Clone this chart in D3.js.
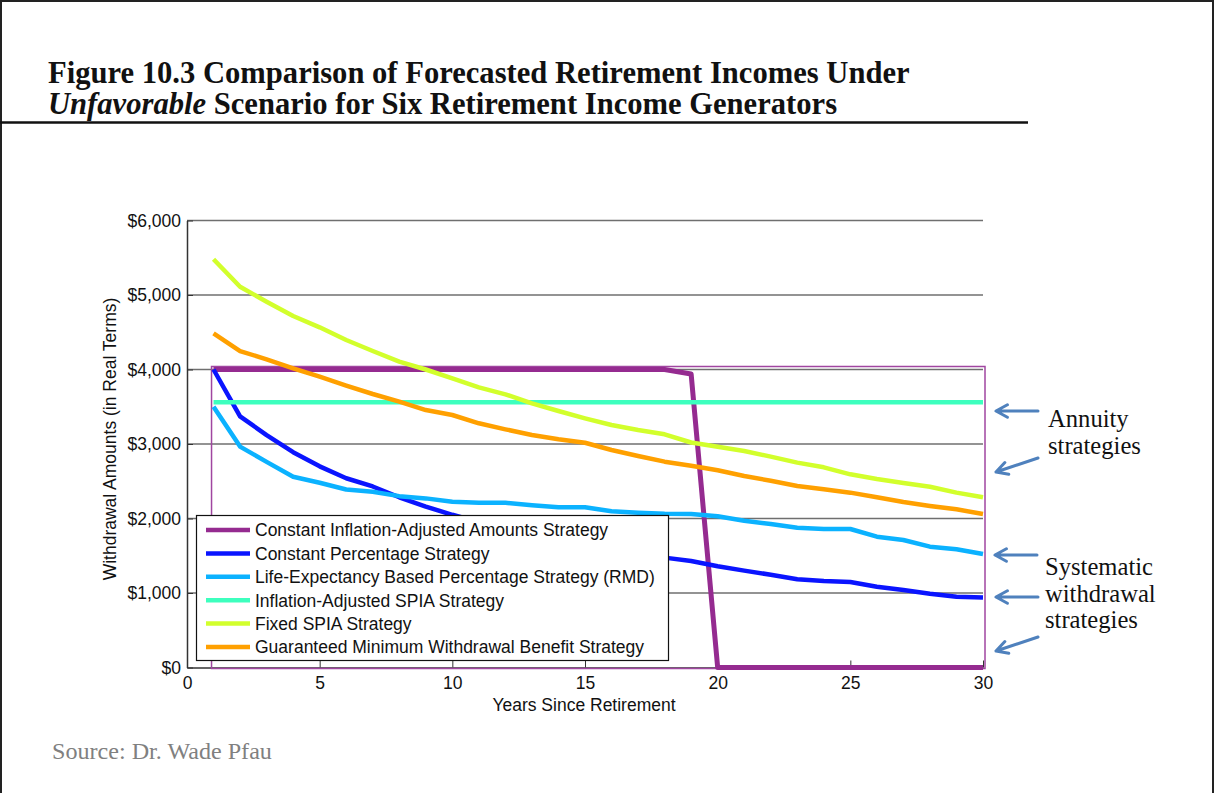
<!DOCTYPE html>
<html>
<head>
<meta charset="utf-8">
<script src="https://cdn.jsdelivr.net/npm/d3@7"></script>
<style>
  html, body { margin: 0; padding: 0; background: #fff; }
  svg { display: block; }
</style>
</head>
<body>
<svg id="chart" width="1215" height="793"></svg>
<script>
// ---------------- DATA ----------------
const years = [1,2,3,4,5,6,7,8,9,10,11,12,13,14,15,16,17,18,19,20,21,22,23,24,25,26,27,28,29,30];

const constInflationAdjusted = [4000,4000,4000,4000,4000,4000,4000,4000,4000,4000,4000,4000,4000,4000,4000,4000,4000,4000,3940,0,0,0,0,0,0,0,0,0,0,0];
const constPercentage = [4000,3370,3120,2890,2700,2540,2430,2285,2160,2050,1950,1860,1780,1710,1640,1580,1520,1475,1430,1360,1300,1245,1185,1160,1148,1085,1040,990,950,940];
const lifeExpectancyRMD = [3500,2965,2760,2560,2480,2390,2360,2300,2270,2225,2210,2210,2177,2150,2150,2097,2078,2064,2060,2030,1970,1926,1877,1859,1859,1756,1711,1622,1587,1523];
const inflationAdjustedSPIA = [3560,3560,3560,3560,3560,3560,3560,3560,3560,3560,3560,3560,3560,3560,3560,3560,3560,3560,3560,3560,3560,3560,3560,3560,3560,3560,3560,3560,3560,3560];
const fixedSPIA = [5480,5110,4910,4718,4566,4396,4248,4105,4000,3880,3760,3667,3546,3443,3345,3255,3188,3130,3020,2964,2906,2830,2750,2687,2593,2530,2477,2427,2347,2285];
const gmwb = [4486,4248,4137,4016,3903,3783,3671,3568,3456,3389,3278,3197,3121,3063,3017,2919,2839,2763,2709,2648,2570,2507,2436,2392,2347,2285,2221,2168,2123,2060];

const seriesNames = [
  "Constant Inflation-Adjusted Amounts Strategy",
  "Constant Percentage Strategy",
  "Life-Expectancy Based Percentage Strategy (RMD)",
  "Inflation-Adjusted SPIA Strategy",
  "Fixed SPIA Strategy",
  "Guaranteed Minimum Withdrawal Benefit Strategy"
];
const seriesValues = [constInflationAdjusted, constPercentage, lifeExpectancyRMD, inflationAdjustedSPIA, fixedSPIA, gmwb];
const seriesColors = ["#952b90", "#0a14ff", "#0bb2ff", "#3dffbe", "#d2ff2c", "#ffa000"];

const xTicks = [0,5,10,15,20,25,30];
const yTicks = [0,1000,2000,3000,4000,5000,6000];

const titleLine1 = "Figure 10.3 Comparison of Forecasted Retirement Incomes Under";
const titleItalic = "Unfavorable";
const titleLine2Rest = " Scenario for Six Retirement Income Generators";
const xTitle = "Years Since Retirement";
const yTitle = "Withdrawal Amounts (in Real Terms)";
const sourceText = "Source: Dr. Wade Pfau";
const annuityLabel = ["Annuity", "strategies"];
const systematicLabel = ["Systematic", "withdrawal", "strategies"];

// ---------------- LAYOUT ----------------
(function () {
const svg = d3.select("#chart");
const pLeft = 187, pRight = 983, pTop = 220.5, pBottom = 667.5;
const x = d3.scaleLinear().domain([0, 30]).range([pLeft, pRight]);
const y = d3.scaleLinear().domain([0, 6000]).range([pBottom, pTop]);
const chartFont = "'Liberation Sans', Arial, sans-serif";
const serifFont = "'Liberation Serif', 'Times New Roman', serif";

function fitWidth(sel, w) {
  const n = sel.node();
  const fs = parseFloat(sel.attr("font-size"));
  const cur = n.getComputedTextLength();
  const nf = fs * w / cur;
  sel.attr("font-size", nf);
  return nf;
}

// outer frame (top, left, right)
svg.append("path")
  .attr("d", "M1,793 L1,1 L1213,1 L1213,793")
  .attr("fill", "none").attr("stroke", "#222").attr("stroke-width", 2);

// title
const t1 = svg.append("text").attr("x", 48).attr("y", 83)
  .attr("font-family", serifFont).attr("font-weight", "bold").attr("font-size", 24)
  .attr("fill", "#111").text(titleLine1);
const tfs = fitWidth(t1, 862);
const t2 = svg.append("text").attr("x", 48).attr("y", 114)
  .attr("font-family", serifFont).attr("font-weight", "bold").attr("font-size", tfs)
  .attr("fill", "#111");
t2.append("tspan").attr("font-style", "italic").text(titleItalic);
t2.append("tspan").text(titleLine2Rest);
svg.append("line").attr("x1", 0).attr("x2", 1028).attr("y1", 122.5).attr("y2", 122.5)
  .attr("stroke", "#111").attr("stroke-width", 2.5);

// gridlines
svg.append("g").selectAll("line").data(yTicks.filter(d => d > 0)).join("line")
  .attr("x1", pLeft).attr("x2", pRight)
  .attr("y1", d => y(d)).attr("y2", d => y(d))
  .attr("stroke", "#6f6f6f").attr("stroke-width", 1.5);

// y axis
const yAxis = svg.append("g").attr("transform", `translate(${pLeft},0)`)
  .call(d3.axisLeft(y).tickValues(yTicks).tickFormat(d3.format("$,.0f")).tickSizeInner(-6).tickSizeOuter(0).tickPadding(6));
yAxis.selectAll("text").attr("font-family", chartFont).attr("font-size", 17.5).attr("fill", "#111");
yAxis.selectAll("line").attr("stroke", "#333");
yAxis.select(".domain").attr("stroke", "#333").attr("stroke-width", 1.5);

// x axis
const xAxis = svg.append("g").attr("transform", `translate(0,${pBottom})`)
  .call(d3.axisBottom(x).tickValues(xTicks).tickFormat(d3.format("d")).tickSizeInner(-7).tickSizeOuter(0).tickPadding(9));
xAxis.selectAll("text").attr("font-family", chartFont).attr("font-size", 17.5).attr("fill", "#111");
xAxis.selectAll("line").attr("stroke", "#333");
xAxis.select(".domain").attr("stroke", "#333").attr("stroke-width", 1.5);

// axis titles
svg.append("text").attr("x", (pLeft + pRight) / 2 - 1).attr("y", 711)
  .attr("text-anchor", "middle").attr("font-family", chartFont).attr("font-size", 17.5)
  .attr("fill", "#111").text(xTitle);
svg.append("text").attr("transform", `translate(116,${(pTop + pBottom) / 2 - 5}) rotate(-90)`)
  .attr("text-anchor", "middle").attr("font-family", chartFont).attr("font-size", 17.5)
  .attr("fill", "#111").text(yTitle);

// thin selection box of the first series
svg.append("rect")
  .attr("x", x(1) - 2).attr("y", y(4000) - 3)
  .attr("width", x(30) - x(1) + 4).attr("height", y(0) - y(4000) + 4)
  .attr("fill", "none").attr("stroke", "#a046a0").attr("stroke-width", 1.5);

// series lines
const line = d3.line().x((d, i) => x(years[i])).y(d => y(d));
svg.append("g").selectAll("path").data(seriesValues).join("path")
  .attr("d", d => line(d))
  .attr("fill", "none")
  .attr("stroke", (d, i) => seriesColors[i])
  .attr("stroke-width", (d, i) => i === 0 ? 5 : 4.5)
  .attr("stroke-linejoin", "round");

// legend
const lg = svg.append("g");
lg.append("rect").attr("x", 196.5).attr("y", 515.5).attr("width", 472).attr("height", 145)
  .attr("fill", "#fff").attr("stroke", "#111").attr("stroke-width", 1.2);
const rowY = i => 530 + i * 23.4;
seriesNames.forEach((name, i) => {
  lg.append("line").attr("x1", 206).attr("x2", 250).attr("y1", rowY(i)).attr("y2", rowY(i))
    .attr("stroke", seriesColors[i]).attr("stroke-width", 4.5);
  lg.append("text").attr("x", 255).attr("y", rowY(i)).attr("dy", "0.36em")
    .attr("font-family", chartFont).attr("font-size", 17.5).attr("fill", "#111").text(name);
});

// annotations
const arrowColor = "#4f81bd";
const arrows = [
  [1038, 411, 996, 411],
  [1038, 458, 996, 472],
  [1037, 555, 995, 555],
  [1038, 597, 996, 597],
  [1038, 637, 996, 651]
];
arrows.forEach(([x1, y1, x2, y2]) => {
  const ang = Math.atan2(y1 - y2, x1 - x2);
  const L = 13, a = 0.5;
  const b1 = [x2 + L * Math.cos(ang + a), y2 + L * Math.sin(ang + a)];
  const b2 = [x2 + L * Math.cos(ang - a), y2 + L * Math.sin(ang - a)];
  svg.append("path")
    .attr("d", `M${x1},${y1} L${x2},${y2} M${b1[0]},${b1[1]} L${x2},${y2} L${b2[0]},${b2[1]}`)
    .attr("fill", "none").attr("stroke", arrowColor).attr("stroke-width", 3)
    .attr("stroke-linecap", "round").attr("stroke-linejoin", "round");
});

const probe = svg.append("text").attr("font-family", serifFont).attr("font-size", 20).text(systematicLabel[0]);
const afs = fitWidth(probe, 108);
probe.remove();
annuityLabel.forEach((s, i) => {
  svg.append("text").attr("x", 1048).attr("y", 427 + i * 26.5)
    .attr("font-family", serifFont).attr("font-size", afs).attr("fill", "#111").text(s);
});
systematicLabel.forEach((s, i) => {
  svg.append("text").attr("x", 1045).attr("y", 575 + i * 26.5)
    .attr("font-family", serifFont).attr("font-size", afs).attr("fill", "#111").text(s);
});

// source
const src = svg.append("text").attr("x", 52).attr("y", 759)
  .attr("font-family", serifFont).attr("font-size", 19).attr("fill", "#808080").text(sourceText);
fitWidth(src, 220);
})();
</script>
</body>
</html>
